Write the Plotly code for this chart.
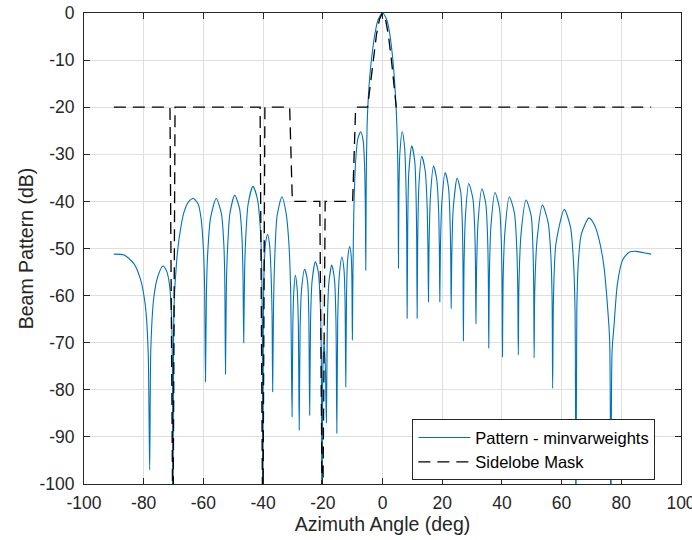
import plotly.graph_objects as go

# ---- data ----
pattern_az = [
    -90.0, -86.6, -83.3, -81.0, -79.4, -78.5, -78.0,
    -77.6, -76.6, -75.3, -73.6, -72.3, -71.3, -70.7, -70.4, -70.2,
    -70.0, -69.8, -69.0, -68.2, -66.6, -65.0, -63.4, -61.8, -60.8, -60.0, -59.6, -59.3,
    -59.0, -58.6, -57.6, -55.7, -54.0, -53.2, -52.85, -52.6,
    -52.3, -51.9, -51.1, -49.5, -47.9, -47.1, -46.75, -46.5,
    -46.2, -45.8, -45.0, -43.4, -41.9, -41.0, -40.5, -40.25, -40.1,
    -39.95, -39.7, -39.2, -38.5, -37.8, -37.3, -37.0, -36.8,
    -36.5, -36.1, -35.3, -33.7, -32.3, -31.4, -30.8, -30.3,
    -30.05, -29.75, -29.2, -28.6, -28.2, -27.9,
    -27.6, -27.1, -26.1, -25.1, -24.7, -24.4,
    -24.1, -23.6, -22.5, -21.5, -20.9, -20.5, -20.3,
    -20.05, -19.6, -19.15, -18.8,
    -18.5, -18.0, -17.0, -16.1, -15.6, -15.3,
    -15.0, -14.5, -13.6, -12.9, -12.55, -12.3,
    -12.05, -11.7, -11.0, -10.5, -10.25, -10.1,
    -9.9, -9.6, -9.0, -8.3, -7.3, -6.5, -6.0, -5.75, -5.6,
    -5.45, -5.2, -4.8, -4.2, -3.5, -2.5, -1.5, 0.0, 1.5, 2.4, 3.4, 4.1, 4.6, 5.0, 5.2, 5.35,
    5.5, 5.8, 6.6, 7.4, 7.85, 8.1, 8.25,
    8.45, 8.8, 9.8, 10.8, 11.25, 11.45, 11.6,
    11.8, 12.2, 13.15, 14.3, 14.9, 15.2, 15.4,
    15.6, 16.1, 17.1, 18.2, 18.8, 19.05, 19.2,
    19.4, 19.9, 21.0, 22.1, 22.6, 22.85, 23.0,
    23.2, 23.7, 25.0, 26.2, 26.75, 26.97, 27.1,
    27.3, 27.8, 28.9, 30.3, 30.9, 31.15, 31.3,
    31.5, 32.0, 33.3, 34.6, 35.2, 35.45, 35.6,
    35.8, 36.3, 37.7, 39.2, 39.8, 40.05, 40.2,
    40.4, 41.0, 42.5, 44.2, 44.95, 45.3, 45.5,
    45.7, 46.4, 48.1, 49.8, 50.4, 50.65, 50.8,
    51.0, 51.8, 53.6, 55.5, 56.4, 56.8, 57.0,
    57.3, 58.1, 60.9, 63.0, 64.0, 64.5, 64.8,
    65.1, 65.6, 66.6, 69.2, 71.0, 72.6, 74.2, 75.4, 76.1, 76.5,
    76.9, 77.6, 78.7, 80.4, 82.6, 84.8, 87.5, 90.0,
]
pattern_db = [
    -51.2, -51.4, -53.2, -56.7, -62.4, -72.0, -97.0,
    -71.0, -60.3, -56.0, -53.7, -54.8, -58.0, -64.0, -74.0, -120.0,
    -70.0, -61.5, -53.0, -48.2, -42.5, -40.1, -39.4, -40.5, -43.5, -50.0, -58.0, -78.3,
    -60.0, -51.5, -43.5, -39.4, -42.5, -48.5, -56.0, -76.7,
    -58.0, -50.0, -42.5, -38.7, -41.5, -47.5, -55.0, -70.0,
    -55.0, -47.5, -40.5, -36.8, -39.5, -45.0, -53.0, -68.0, -120.0,
    -68.0, -55.5, -49.0, -47.0, -49.5, -56.0, -64.0, -80.4,
    -62.0, -52.0, -43.0, -39.0, -42.5, -48.5, -58.0, -85.7,
    -67.0, -59.5, -55.7, -58.5, -66.0, -88.5,
    -67.0, -58.5, -54.4, -57.0, -64.0, -85.4,
    -65.5, -57.0, -52.8, -55.0, -61.0, -73.0, -120.0,
    -78.0, -70.0, -75.0, -87.0,
    -67.0, -57.5, -53.5, -56.5, -65.0, -89.2,
    -65.0, -56.0, -51.8, -54.5, -61.0, -79.4,
    -60.0, -52.5, -49.6, -51.5, -56.5, -69.4,
    -55.0, -42.0, -31.5, -26.8, -25.2, -27.0, -32.5, -41.0, -54.6,
    -36.0, -25.0, -18.5, -13.0, -8.8, -4.3, -1.5, 0.0, -1.6, -4.3, -9.5, -15.0, -20.5, -28.0, -36.0, -54.2,
    -38.0, -30.0, -25.2, -28.5, -36.0, -46.0, -64.8,
    -46.0, -34.0, -28.2, -31.5, -39.0, -48.0, -64.8,
    -48.0, -36.5, -30.4, -33.5, -40.0, -49.0, -61.3,
    -49.0, -38.5, -32.5, -35.5, -42.0, -50.0, -61.3,
    -50.0, -40.0, -33.9, -37.0, -43.5, -51.0, -62.7,
    -52.0, -41.5, -35.1, -38.0, -45.0, -54.0, -69.6,
    -54.0, -43.0, -36.2, -39.5, -46.0, -54.0, -65.9,
    -55.0, -44.5, -37.3, -40.5, -47.5, -56.0, -71.1,
    -56.0, -45.5, -38.1, -41.5, -48.5, -57.0, -73.0,
    -57.0, -46.5, -39.0, -42.5, -49.5, -58.0, -72.6,
    -58.0, -47.0, -39.7, -43.0, -50.0, -58.0, -73.2,
    -59.0, -48.0, -40.8, -44.5, -51.5, -60.0, -79.7,
    -60.0, -49.0, -41.7, -45.5, -53.0, -63.0, -115.0,
    -63.0, -53.0, -47.0, -43.5, -45.0, -48.2, -53.9, -62.4, -69.5, -115.0,
    -72.0, -66.0, -57.5, -52.5, -50.8, -50.6, -50.9, -51.2,
]

mask_az = [-90.0, -71.2, -70.2, -69.5, -41.0, -40.1, -39.4, -31.1, -30.2,
           -21.0, -20.1, -19.2, -10.0, -9.0, -5.0, -4.0, -3.0, -2.0, -1.0,
           0.0, 1.0, 2.0, 3.0, 4.0, 4.6, 90.0]
mask_db = [-20.0, -20.0, -115.0, -20.0, -20.0, -115.0, -20.0, -20.0, -40.0,
           -40.0, -115.0, -40.0, -40.0, -20.0, -20.0, -14.5, -9.0, -4.5, -1.3,
           0.0, -1.3, -4.8, -10.0, -15.5, -20.0, -20.0]

x_ticks = [-100, -80, -60, -40, -20, 0, 20, 40, 60, 80, 100]
x_tick_labels = ["-100", "-80", "-60", "-40", "-20", "0", "20", "40", "60", "80", "100"]
y_ticks = [-100, -90, -80, -70, -60, -50, -40, -30, -20, -10, 0]
y_tick_labels = ["-100", "-90", "-80", "-70", "-60", "-50", "-40", "-30", "-20", "-10", "0"]

FONT = "Liberation Sans, Arial, Helvetica, sans-serif"
TXT = "#262626"
GRID = "#dfdfdf"

fig = go.Figure()
fig.add_trace(go.Scatter(
    x=pattern_az, y=pattern_db, mode="lines",
    name="Pattern - minvarweights",
    line=dict(color="#0072BD", width=1.1, shape="spline", smoothing=0.7),
))
fig.add_trace(go.Scatter(
    x=mask_az, y=mask_db, mode="lines",
    name="Sidelobe Mask",
    line=dict(color="#000000", width=1.3, dash="12px,7px"),
))

axis_common = dict(
    showline=True, linecolor=TXT, linewidth=1, mirror="ticks",
    ticks="inside", ticklen=6, tickcolor=TXT, tickwidth=1,
    showgrid=True, gridcolor=GRID, gridwidth=1, zeroline=False,
    tickfont=dict(family=FONT, size=17.5, color=TXT),
    automargin=False, ticklabeloverflow="allow",
)
fig.update_xaxes(range=[-100, 100], tickvals=x_ticks, ticktext=x_tick_labels,
                 ticklabelstandoff=3,
                 title=dict(text="Azimuth Angle (deg)", font=dict(family=FONT, size=19.5, color=TXT), standoff=4),
                 **axis_common)
fig.update_yaxes(range=[-100, 0], tickvals=y_ticks, ticktext=y_tick_labels,
                 ticklabelstandoff=5,
                 title=dict(text="Beam Pattern (dB)", font=dict(family=FONT, size=19.5, color=TXT), standoff=0),
                 **axis_common)

fig.update_layout(
    width=692, height=540,
    margin=dict(l=84, r=11, t=13, b=56, autoexpand=False),
    paper_bgcolor="white", plot_bgcolor="white",
    font=dict(family=FONT, color=TXT),
    legend=dict(
        x=0.957, y=0.008, xanchor="right", yanchor="bottom",
        bgcolor="white", bordercolor=TXT, borderwidth=1,
        font=dict(family=FONT, size=16.5, color="#000000"),
        itemwidth=52, tracegroupgap=0,
    ),
)

fig.write_html("out.html", config={"displayModeBar": False},
               post_script="document.body.style.margin='0px';")
